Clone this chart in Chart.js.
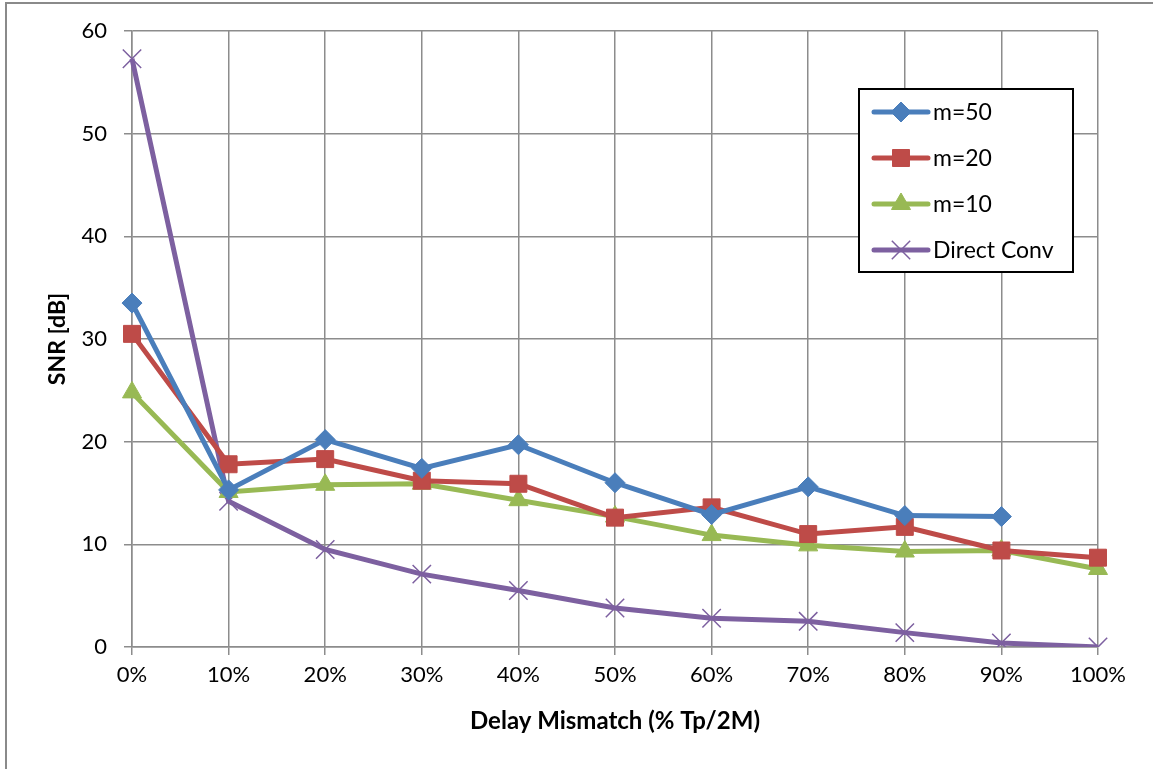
<!DOCTYPE html>
<html>
<head>
<meta charset="utf-8">
<script src="https://cdn.jsdelivr.net/npm/chart.js@4"></script>
<style>
    body { margin: 0; background: #fff; }
    #frame {
        position: absolute; left: 5px; top: 2px; width: 2000px; height: 2000px;
        border-left: 2px solid #8a8a8a; border-top: 2px solid #8a8a8a;
        pointer-events: none;
    }
    canvas { position: absolute; left: 0; top: 0; }
</style>
</head>
<body>
<div id="frame"></div>
<canvas id="snrChart" width="1153" height="769"></canvas>
<script>
// x categories
const mismatchLabels = ['0%', '10%', '20%', '30%', '40%', '50%', '60%', '70%', '80%', '90%', '100%'];

// SNR values (dB)
const snrM50 = [33.5, 15.3, 20.2, 17.4, 19.7, 16.0, 12.9, 15.6, 12.8, 12.7, null];
const snrM20 = [30.5, 17.8, 18.3, 16.2, 15.9, 12.6, 13.6, 11.0, 11.7, 9.4, 8.7];
const snrM10 = [24.8, 15.1, 15.8, 15.9, 14.3, 12.7, 10.9, 9.9, 9.3, 9.4, 7.6];
const snrDirect = [57.3, 14.2, 9.5, 7.1, 5.5, 3.8, 2.8, 2.5, 1.4, 0.4, 0];

const yTicks = [0, 10, 20, 30, 40, 50, 60];

const FONT = 'Lato, "Open Sans", sans-serif';
const GRID = '#8c8c8c';

// legend drawn inside the plot, Excel style
const boxLegend = {
    id: 'boxLegend',
    afterDraw(chart) {
        const ctx = chart.ctx;
        const x0 = 859, y0 = 89, w = 214, h = 183;
        ctx.save();
        ctx.fillStyle = '#fff';
        ctx.fillRect(x0, y0, w, h);
        ctx.lineWidth = 2;
        ctx.strokeStyle = '#000';
        ctx.strokeRect(x0, y0, w, h);

        const rows = [112, 158, 204, 250];
        chart.data.datasets.forEach((ds, i) => {
            const y = rows[i];
            ctx.strokeStyle = ds.borderColor;
            ctx.lineWidth = ds.borderWidth;
            ctx.lineCap = 'round';
            ctx.beginPath();
            ctx.moveTo(874, y);
            ctx.lineTo(928, y);
            ctx.stroke();
            ctx.lineCap = 'butt';
            ctx.fillStyle = ds.pointBackgroundColor;
            ctx.strokeStyle = ds.pointBorderColor;
            ctx.lineWidth = ds.pointBorderWidth;
            Chart.helpers.drawPoint(ctx, {
                pointStyle: ds.pointStyle,
                radius: ds.pointRadius,
                rotation: 0,
                borderWidth: ds.pointBorderWidth
            }, 901, y);
            ctx.fillStyle = '#000';
            ctx.font = '23px ' + FONT;
            ctx.textBaseline = 'middle';
            ctx.textAlign = 'left';
            ctx.fillText(ds.label, 933, y + 1);
        });
        ctx.restore();
    }
};

function series(label, data, color, style, radius, pbw) {
    return {
        label: label,
        data: data,
        borderColor: color,
        backgroundColor: color,
        borderWidth: 5,
        pointStyle: style,
        pointRadius: radius,
        pointBackgroundColor: color,
        pointBorderColor: color,
        pointBorderWidth: pbw,
        tension: 0,
        spanGaps: false
    };
}

const ctx = document.getElementById('snrChart');
new Chart(ctx, {
    type: 'line',
    data: {
        labels: mismatchLabels,
        datasets: [
            series('m=50', snrM50, '#4a7ebb', 'rectRot', 10, 1),
            series('m=20', snrM20, '#be4b48', 'rect', 12, 1),
            series('m=10', snrM10, '#98b954', 'triangle', 11, 1),
            series('Direct Conv', snrDirect, '#7d60a0', 'crossRot', 13, 1.5)
        ]
    },
    options: {
        responsive: false,
        devicePixelRatio: 1,
        animation: false,
        events: [],
        layout: { padding: { left: 0, right: 55, top: 31, bottom: 0 } },
        plugins: {
            legend: { display: false },
            tooltip: { enabled: false }
        },
        scales: {
            x: {
                offset: false,
                grid: { color: GRID, lineWidth: 1.5, tickLength: 8, tickColor: GRID },
                border: { color: GRID, width: 1.5 },
                ticks: { color: '#000', font: { family: FONT, size: 22 }, padding: 7, maxRotation: 0 },
                title: {
                    display: true,
                    text: 'Delay Mismatch (% Tp/2M)',
                    color: '#000',
                    font: { family: FONT, size: 24, weight: 'bold' },
                    padding: { top: 0, bottom: 33 }
                },
                afterFit(scale) { scale.height = 122; }
            },
            y: {
                min: 0,
                max: 60,
                afterBuildTicks(scale) { scale.ticks = yTicks.map(v => ({ value: v })); },
                grid: { color: GRID, lineWidth: 1.5, tickLength: 8, tickColor: GRID },
                border: { color: GRID, width: 1.5 },
                ticks: { color: '#000', font: { family: FONT, size: 22 }, padding: 17 },
                title: {
                    display: true,
                    text: 'SNR [dB]',
                    color: '#000',
                    font: { family: FONT, size: 23, weight: 'bold' },
                    padding: { top: 44, bottom: 0 }
                },
                afterFit(scale) { scale.width = 132; }
            }
        }
    },
    plugins: [boxLegend]
});
</script>
</body>
</html>
